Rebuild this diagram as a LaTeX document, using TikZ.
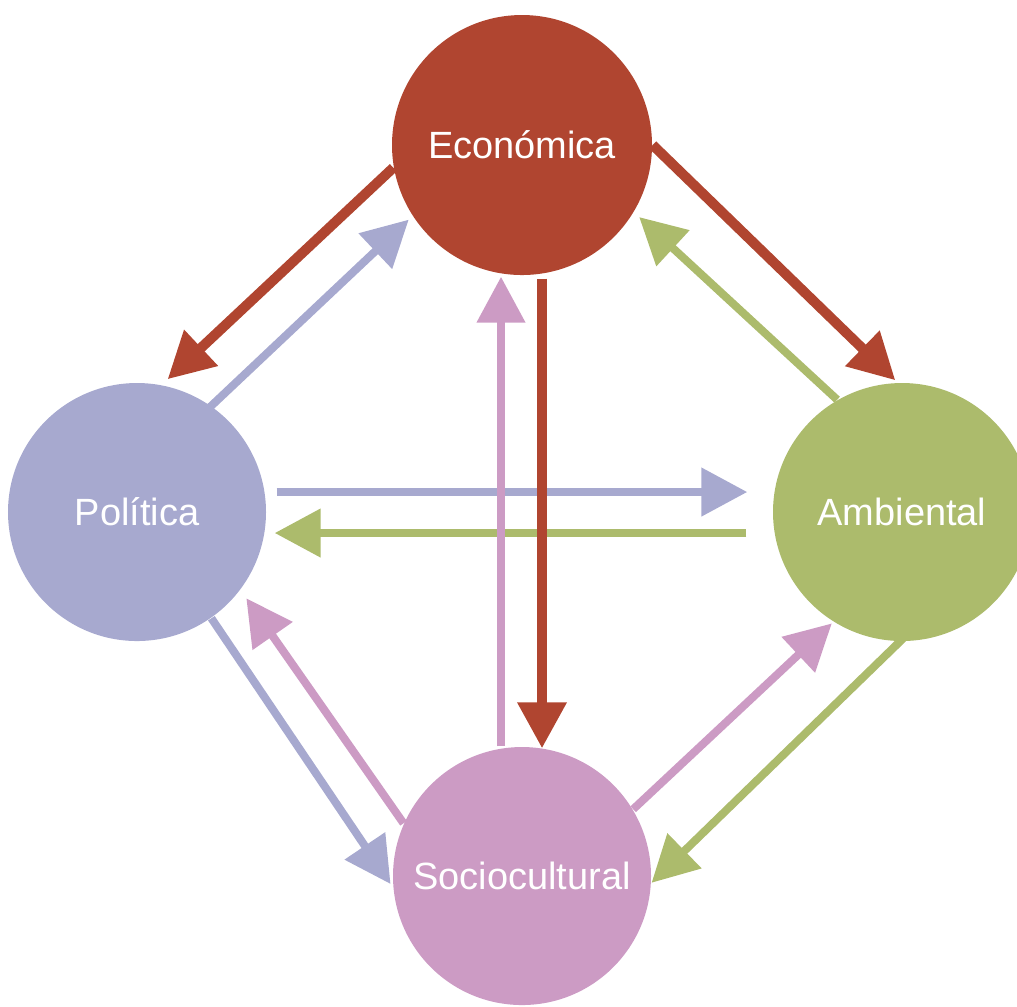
\documentclass[tikz,border=0pt]{standalone}
\usepackage{fontspec}
\setmainfont{Liberation Sans}
\usetikzlibrary{arrows.meta}
\tikzset{
dimball/.style={circle, minimum size=2.58cm, inner sep=0pt, text=white, font=\fontsize{10.8}{13}\selectfont},
dimarrow/.style={line width=0.08cm, -{Triangle[length=0.46cm,width=0.47cm]}},
ecoarrow/.style={dimarrow, CeA, line width=0.1cm},
}
\definecolor{CeA}{RGB}{176,69,48}
\definecolor{CpA}{RGB}{167,169,207}
\definecolor{CaA}{RGB}{172,187,108}
\definecolor{CsA}{RGB}{204,155,196}

\begin{document}
\begin{tikzpicture}
\useasboundingbox (0,0) rectangle (10.17,-10.06);

%% Dimensions
\node[dimball, fill=CeA, minimum size=2.6cm] (eco) at (5.22,-1.45) {Económica};
\node[dimball, fill=CpA] (pol) at (1.37,-5.12) {Política};
\node[dimball, fill=CaA] (amb) at (9.02,-5.12) {Ambiental};
\node[dimball, fill=CsA] (soc) at (5.22,-8.76) {Sociocultural};

% --------------------------------------------------------

%% Economica - Politica
\draw[ecoarrow, shorten >=0.08cm] (eco.190) -- (pol.79);
\draw[dimarrow, CpA, shorten <=-0.05cm, shorten >=0.05cm] (pol.55) -- (eco.213);

%% Economica - Ambiental
\draw[ecoarrow, shorten >=0.03cm] (eco.0) -- (amb.92);
\draw[dimarrow, CaA, shorten >=0.07cm] (amb.120) -- (eco.329);

%% Politica - Ambiental
\draw[dimarrow, CpA] ([shift={(0.1,0.2)}]pol.east) -- ([shift={(-0.25,0.2)}]amb.west);
\draw[dimarrow, CaA] ([shift={(-0.26,-0.21)}]amb.west) -- ([shift={(0.08,-0.21)}]pol.east);

%% Economica - Sociocultural
\draw[dimarrow, CsA] ([xshift=-0.21cm]soc.north) -- ([shift={(-0.21,-0.01)}]eco.south);
\draw[ecoarrow] ([shift={(0.2,-0.03)}]eco.south) -- ([shift={(0.2,-0.02)}]soc.north);

% --------------------------------------------------------

%% Politica - Sociocultural
\draw[dimarrow, CpA, shorten >=0.04cm] (pol.305) -- (soc.185);
\draw[dimarrow, CsA, shorten >=0.1cm] (soc.156) -- (pol.323);

%% Ambiental - Sociocultural
\draw[dimarrow, CsA, shorten >=0.02cm] (soc.31) -- (amb.238);
\draw[dimarrow, CaA, shorten <=-0.07cm] (amb.269) -- (soc.357);
\end{tikzpicture}
\end{document}
